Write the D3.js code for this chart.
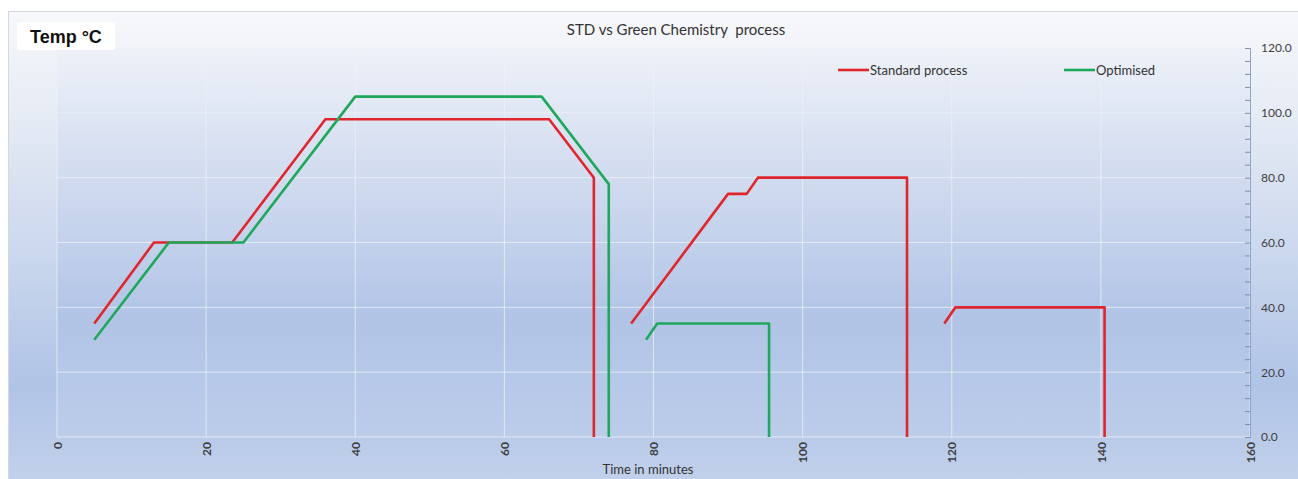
<!DOCTYPE html>
<html>
<head>
<meta charset="utf-8">
<script src="https://cdn.jsdelivr.net/npm/d3@7"></script>
<style>
  body { margin: 0; background: #fff; }
  svg { display: block; }
  text { white-space: pre; }
</style>
</head>
<body>
<div id="chart"></div>
<script>
// chart values, null = break in the line
const standardTime = [5, 13, 23.5, 36, 66, 72, 72, null, 77, 90, 92.5, 94, 114, 114, null, 119, 120.5, 140.5, 140.5];
const standardTemp = [35, 60, 60, 98, 98, 80, 0, null, 35, 75, 75, 80, 80, 0, null, 35, 40, 40, 0];
const optimisedTime = [5, 15, 25, 40, 65, 74, 74, null, 79, 80.5, 95.5, 95.5];
const optimisedTemp = [30, 60, 60, 105, 105, 78, 0, null, 30, 35, 35, 0];
const xTicks = [0, 20, 40, 60, 80, 100, 120, 140, 160];
const yTicks = [0, 20, 40, 60, 80, 100, 120];
const seriesNames = ['Standard process', 'Optimised'];

const width = 1298, height = 479;
const plotL = 57, plotR = 1250, plotT = 48, plotB = 437;
const colors = ['#e0262c', '#1fa85b'];

const svg = d3.select('#chart').append('svg')
    .attr('width', width)
    .attr('height', height);

const defs = svg.append('defs');
const bg = defs.append('linearGradient').attr('id', 'bg')
    .attr('x1', 0).attr('y1', 0).attr('x2', 0).attr('y2', 1);
bg.append('stop').attr('offset', '0%').attr('stop-color', '#f7f8fb');
bg.append('stop').attr('offset', '25%').attr('stop-color', '#e3e9f4');
bg.append('stop').attr('offset', '78%').attr('stop-color', '#b0c4e6');
bg.append('stop').attr('offset', '100%').attr('stop-color', '#c3d2ec');

const pg = defs.append('linearGradient').attr('id', 'pg')
    .attr('x1', 0).attr('y1', 0).attr('x2', 0).attr('y2', 1);
pg.append('stop').attr('offset', '0%').attr('stop-color', '#eef1f8');
pg.append('stop').attr('offset', '70%').attr('stop-color', '#b1c4e6');
pg.append('stop').attr('offset', '100%').attr('stop-color', '#bccdea');

// chart frame
svg.append('rect')
    .attr('x', 8.5).attr('y', 11.5)
    .attr('width', width).attr('height', height)
    .attr('fill', 'url(#bg)')
    .attr('stroke', '#d4d8de');

svg.append('rect')
    .attr('x', plotL).attr('y', plotT)
    .attr('width', plotR - plotL).attr('height', plotB - plotT)
    .attr('fill', 'url(#pg)');

const x = d3.scaleLinear().domain([0, 160]).range([plotL, plotR]);
const y = d3.scaleLinear().domain([0, 120]).range([plotB, plotT]);

// grid
svg.append('g').selectAll('line')
    .data(xTicks)
    .enter()
    .append('line')
        .attr('x1', d => x(d)).attr('x2', d => x(d))
        .attr('y1', plotT).attr('y2', plotB)
        .attr('stroke', '#eef1f7')
        .attr('stroke-opacity', 0.75);

svg.append('g').selectAll('line')
    .data(yTicks)
    .enter()
    .append('line')
        .attr('x1', plotL).attr('x2', plotR)
        .attr('y1', d => y(d)).attr('y2', d => y(d))
        .attr('stroke', '#eef1f7')
        .attr('stroke-opacity', 0.75);

// right y axis, ticks point inward
const yAxis = d3.axisRight(y)
    .tickValues(d3.range(0, 121, 4))
    .tickSize(-5)
    .tickFormat(d => (d % 20 === 0 ? d3.format('.1f')(d) : ''));
const ya = svg.append('g')
    .attr('transform', `translate(${plotR},0)`)
    .call(yAxis);
ya.select('.domain').attr('stroke', '#8ea3c9');
ya.selectAll('.tick line').attr('stroke', '#7d8fb3');
ya.selectAll('text')
    .attr('x', 11)
    .attr('font-family', 'Lato, sans-serif')
    .attr('font-size', 12)
    .attr('fill', '#404040');

// bottom x axis labels, rotated
const xAxis = d3.axisBottom(x).tickValues(xTicks).tickSize(0);
const xa = svg.append('g')
    .attr('transform', `translate(0,${plotB})`)
    .call(xAxis);
xa.select('.domain').remove();
xa.selectAll('text')
    .attr('transform', 'rotate(-90)')
    .attr('x', -5)
    .attr('y', 0)
    .attr('dy', '0.35em')
    .attr('text-anchor', 'end')
    .attr('font-family', 'Lato, sans-serif')
    .attr('font-weight', 'bold')
    .attr('font-size', 12)
    .attr('fill', '#404040');

// lines
const line = d3.line()
    .defined(d => d[1] !== null)
    .x(d => x(d[0]))
    .y(d => y(d[1]));

const series = [
    d3.zip(standardTime, standardTemp),
    d3.zip(optimisedTime, optimisedTemp)
];

svg.append('g').selectAll('path')
    .data(series)
    .enter()
    .append('path')
        .attr('d', line)
        .attr('fill', 'none')
        .attr('stroke', (d, i) => colors[i])
        .attr('stroke-width', 2.6)
        .attr('stroke-linejoin', 'round');

// legend
const legend = svg.append('g').selectAll('g')
    .data(seriesNames)
    .enter()
    .append('g')
        .attr('transform', (d, i) => `translate(${[838, 1064][i]},70)`);
legend.append('line')
    .attr('x1', 0).attr('x2', 31)
    .attr('stroke', (d, i) => colors[i])
    .attr('stroke-width', 2.6);
legend.append('text')
    .attr('x', 32)
    .attr('dy', '0.35em')
    .attr('font-family', 'Lato, sans-serif')
    .attr('font-size', 13)
    .attr('fill', '#333')
    .text(d => d);

// titles
svg.append('text')
    .attr('x', 676).attr('y', 35)
    .attr('text-anchor', 'middle')
    .attr('font-family', 'Lato, sans-serif')
    .attr('font-size', 15)
    .attr('fill', '#333')
    .text('STD vs Green Chemistry  process');

svg.append('text')
    .attr('x', 648).attr('y', 474)
    .attr('text-anchor', 'middle')
    .attr('font-family', 'Lato, sans-serif')
    .attr('font-size', 13)
    .attr('fill', '#333')
    .text('Time in minutes');

svg.append('rect')
    .attr('x', 17).attr('y', 22)
    .attr('width', 98).attr('height', 28)
    .attr('fill', '#fff');
svg.append('text')
    .attr('x', 30).attr('y', 43)
    .attr('font-family', 'Liberation Sans, Arial, sans-serif')
    .attr('font-weight', 'bold')
    .attr('font-size', 18)
    .attr('fill', '#111')
    .text('Temp °C');
</script>
</body>
</html>
